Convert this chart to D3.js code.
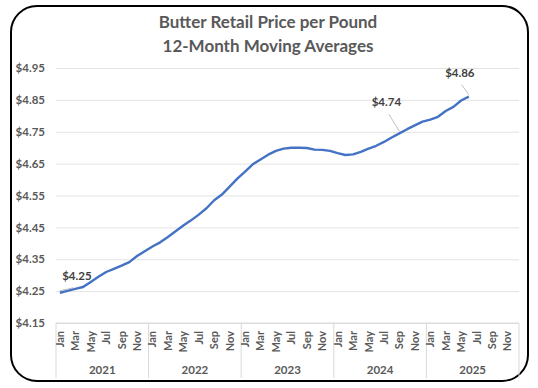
<!DOCTYPE html>
<html>
<head>
<meta charset="utf-8">
<script src="https://cdn.jsdelivr.net/npm/d3@7"></script>
<style>
  body { margin: 0; background: #ffffff; }
  svg { display: block; font-family: Lato, "Open Sans", sans-serif; }
</style>
</head>
<body>
<svg id="chart" width="538" height="388"></svg>
<script>
// Categories
const years = [2021, 2022, 2023, 2024, 2025];
const monthNames = ["Jan", "Feb", "Mar", "Apr", "May", "Jun", "Jul", "Aug", "Sep", "Oct", "Nov", "Dec"];

// 12-month moving average, Jan 2021 .. Jun 2025
const prices = [
  4.245, 4.251, 4.257, 4.263, 4.279, 4.295, 4.310, 4.320, 4.330, 4.341, 4.360, 4.375,
  4.390, 4.403, 4.420, 4.438, 4.456, 4.472, 4.490, 4.510, 4.535, 4.553, 4.578, 4.603,
  4.625, 4.648, 4.663, 4.678, 4.690, 4.697, 4.700, 4.700, 4.699, 4.694, 4.693, 4.690,
  4.683, 4.677, 4.679, 4.687, 4.697, 4.706, 4.718, 4.732, 4.745, 4.758, 4.770, 4.782,
  4.788, 4.797, 4.815, 4.828, 4.848, 4.860
];

// Tick labels
const yTicks = [4.15, 4.25, 4.35, 4.45, 4.55, 4.65, 4.75, 4.85, 4.95];
const titleLines = ["Butter Retail Price per Pound", "12-Month Moving Averages"];

// Callouts: index into prices and their label
const callouts = [
  { i: 0, label: "$4.25" },
  { i: 44, label: "$4.74" },
  { i: 53, label: "$4.86" }
];

const TEXT_COLOR = "#595959";
const LINE_COLOR = "#4472C4";
const GRID_COLOR = "#e3e3e3";

const svg = d3.select("#chart");

// Rounded frame
svg.append("rect")
  .attr("x", 11).attr("y", 6)
  .attr("width", 517).attr("height", 375)
  .attr("rx", 26).attr("ry", 26)
  .attr("fill", "#ffffff")
  .attr("stroke", "#000000")
  .attr("stroke-width", 2);

// Title
svg.append("g").selectAll("text")
  .data(titleLines)
  .join("text")
  .attr("x", 268)
  .attr("y", (d, i) => 28 + i * 24)
  .attr("text-anchor", "middle")
  .attr("font-size", 17)
  .attr("font-weight", "bold")
  .attr("fill", TEXT_COLOR)
  .text((d) => d);

// Categories: one per month
const categories = [];
years.forEach((y) => monthNames.forEach((m, mi) => categories.push({ year: y, month: m, mi })));

const plot = { left: 56, right: 519, top: 68, bottom: 323 };

const x = d3.scaleBand()
  .domain(d3.range(categories.length))
  .range([plot.left, plot.right]);

const y = d3.scaleLinear()
  .domain([yTicks[0], yTicks[yTicks.length - 1]])
  .range([plot.bottom, plot.top]);

const cx = (i) => x(i) + x.bandwidth() / 2;

// Gridlines + y labels
const yAxis = d3.axisLeft(y)
  .tickValues(yTicks)
  .tickSize(-(plot.right - plot.left))
  .tickPadding(11)
  .tickFormat((d) => "$" + d.toFixed(2));

const yg = svg.append("g")
  .attr("transform", `translate(${plot.left},0)`)
  .call(yAxis);
yg.select(".domain").remove();
yg.selectAll(".tick line").attr("stroke", GRID_COLOR).attr("stroke-width", 1);
yg.selectAll(".tick text")
  .attr("fill", TEXT_COLOR)
  .attr("font-size", 11.5)
  .attr("font-weight", "bold")
  .attr("font-family", "Lato, sans-serif");

// Category axis line
svg.append("line")
  .attr("x1", plot.left).attr("x2", plot.right)
  .attr("y1", plot.bottom).attr("y2", plot.bottom)
  .attr("stroke", "#d9d9d9");

// Year separators
const sepIdx = years.map((yr, k) => k * 12).concat([categories.length]);
svg.append("g").selectAll("line")
  .data(sepIdx)
  .join("line")
  .attr("x1", (d) => (d < categories.length ? x(d) : plot.right))
  .attr("x2", (d) => (d < categories.length ? x(d) : plot.right))
  .attr("y1", plot.bottom)
  .attr("y2", 378)
  .attr("stroke", "#d9d9d9");

// Month labels, every other month, rotated
svg.append("g").selectAll("text")
  .data(categories.map((c, i) => ({ ...c, i })).filter((c) => c.mi % 2 === 0))
  .join("text")
  .attr("transform", (d) => `translate(${cx(d.i) + 4},331) rotate(-90)`)
  .attr("text-anchor", "end")
  .attr("font-size", 11)
  .attr("font-weight", "bold")
  .attr("fill", TEXT_COLOR)
  .text((d) => d.month);

// Year labels
svg.append("g").selectAll("text")
  .data(years)
  .join("text")
  .attr("x", (d, k) => (x(k * 12) + (k < years.length - 1 ? x((k + 1) * 12) : plot.right)) / 2)
  .attr("y", 374)
  .attr("text-anchor", "middle")
  .attr("font-size", 11.5)
  .attr("font-weight", "bold")
  .attr("fill", TEXT_COLOR)
  .text((d) => d);

// Price line (straight segments, as in the source)
const line = d3.line()
  .x((d, i) => cx(i))
  .y((d) => y(d));

svg.append("path")
  .datum(prices)
  .attr("fill", "none")
  .attr("stroke", LINE_COLOR)
  .attr("stroke-width", 2.4)
  .attr("stroke-linejoin", "round")
  .attr("d", line);

// Callouts with leader lines
const offsets = { 0: [17, -13], 44: [-13, -27], 53: [-9, -20] };
const cg = svg.append("g");
callouts.forEach((c) => {
  const px = cx(c.i), py = y(prices[c.i]);
  const [dx, dy] = offsets[c.i];
  cg.append("line")
    .attr("x1", px).attr("y1", py - 2)
    .attr("x2", px + dx * 0.8).attr("y2", py + dy + 8)
    .attr("stroke", "#a6a6a6")
    .attr("stroke-width", 0.7);
  cg.append("text")
    .attr("x", px + dx)
    .attr("y", py + dy)
    .attr("text-anchor", "middle")
    .attr("font-size", 11.5)
    .attr("font-weight", "bold")
    .attr("fill", "#404040")
    .text(c.label);
});
</script>
</body>
</html>
